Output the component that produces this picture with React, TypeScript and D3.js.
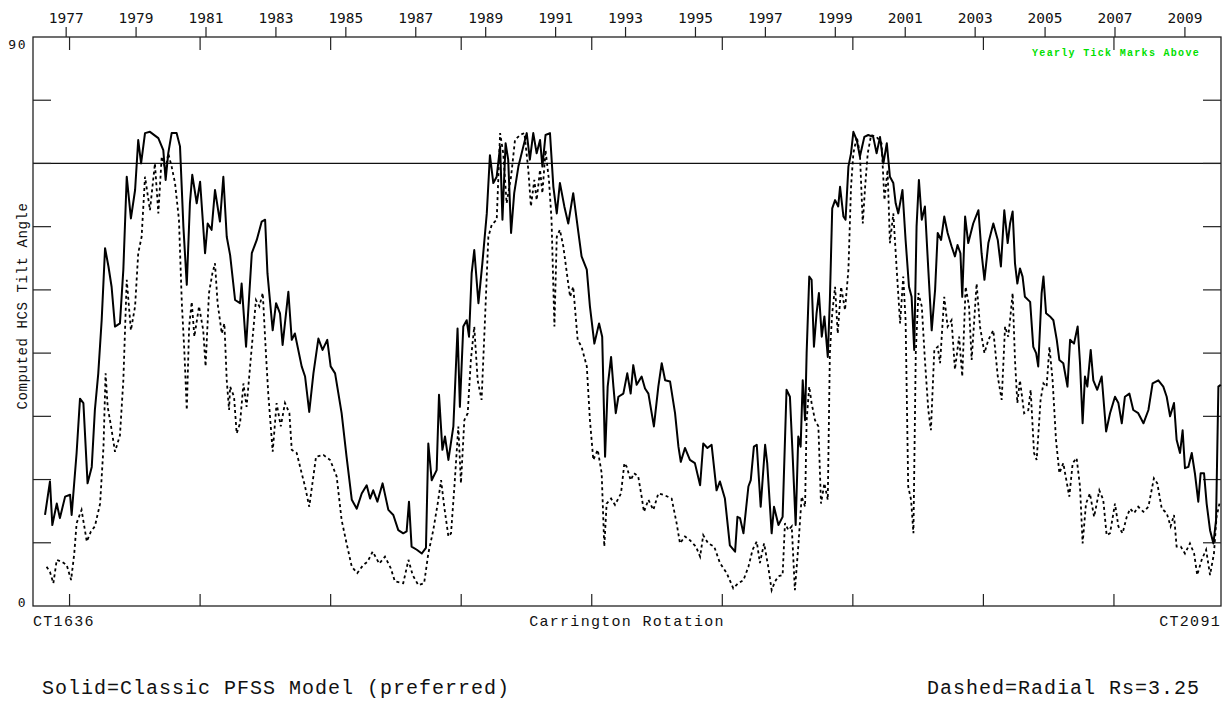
import React from "react";
import * as d3 from "d3";

// Carrington rotation range and axis ticks
const crStart = 1636;
const crEnd = 2091;
const crTicks = [1650, 1700, 1750, 1800, 1850, 1900, 1950, 2000, 2050];
const yTicks = [10, 20, 30, 40, 50, 60, 70, 80];
const yLabels = [0, 90];
const yearLabels = [1977, 1979, 1981, 1983, 1985, 1987, 1989, 1991, 1993, 1995, 1997, 1999, 2001, 2003, 2005, 2007, 2009];
const crAt1977 = 1648.7;
const crPerYear = 13.39;
const refLine = 70;

// Solid = Classic PFSS model  [Carrington rotation, tilt angle]
const solidData: [number, number][] = [
  [1640.6,14.4],[1642.5,19.7],[1643.4,12.8],[1645.1,16.2],[1646.3,13.9],[1648.3,17.3],[1650.2,17.6],[1650.8,14.4],[1652.7,24.2],[1654.0,32.8],[1655.3,32.1],[1656.9,19.4],[1658.5,22.0],[1659.7,31.0],[1661.0,36.8],[1662.3,45.2],[1663.6,56.6],[1664.9,53.7],[1666.1,50.5],[1667.4,44.2],[1669.3,44.7],[1670.6,53.2],[1671.9,67.9],[1673.5,61.3],[1675.1,65.8],[1676.3,73.7],[1677.4,70.0],[1678.9,74.8],[1680.8,75.0],[1684.0,74.0],[1685.9,72.1],[1686.8,67.4],[1687.8,71.6],[1689.1,74.8],[1691.0,74.8],[1692.3,72.7],[1693.6,60.0],[1694.9,50.8],[1696.1,63.7],[1697.0,68.2],[1698.7,63.7],[1700.0,67.1],[1701.9,55.8],[1702.9,60.5],[1704.4,59.5],[1705.7,65.8],[1707.6,60.8],[1708.9,67.9],[1710.2,58.4],
  [1711.5,55.5],[1713.4,48.4],[1715.3,47.9],[1715.9,51.0],[1717.6,41.0],[1719.8,55.8],[1721.7,57.9],[1723.6,60.8],[1724.9,61.1],[1725.8,52.6],[1727.8,43.6],[1729.1,47.9],[1730.6,46.3],[1731.6,41.3],[1733.8,49.7],[1735.1,42.1],[1736.3,43.1],[1738.9,37.9],[1740.2,36.3],[1741.8,30.7],[1743.4,36.8],[1745.3,42.3],[1746.9,40.5],[1748.7,42.1],[1750.0,37.9],[1751.7,36.8],[1754.2,30.5],[1756.1,23.6],[1758.1,16.8],[1760.0,15.4],[1761.9,17.8],[1763.8,19.1],[1765.1,17.0],[1766.3,18.3],[1767.9,16.5],[1769.9,19.4],[1772.1,15.2],[1774.0,14.4],[1775.9,12.0],[1777.8,11.5],[1779.1,11.8],[1780.0,16.5],[1781.0,9.4],[1783.0,8.9],[1784.9,8.3],[1786.5,9.2],
  [1787.4,25.7],[1788.7,19.9],[1790.6,21.5],[1791.5,33.4],[1792.8,24.7],[1793.8,26.8],[1795.1,23.1],[1797.0,28.4],[1798.6,43.9],[1799.5,31.5],[1800.8,44.2],[1802.1,45.2],[1803.0,42.6],[1804.0,52.6],[1805.0,56.3],[1806.6,47.9],[1808.1,54.2],[1809.8,62.1],[1811.0,71.3],[1812.3,66.9],[1813.6,67.9],[1814.9,72.7],[1815.8,61.1],[1817.0,73.2],[1818.0,70.6],[1819.1,59.0],[1820.3,65.3],[1821.9,69.5],[1823.8,72.7],[1825.1,74.8],[1826.3,70.6],[1827.6,74.8],[1828.9,71.6],[1830.2,73.7],[1831.1,69.5],[1832.3,74.5],[1834.0,74.8],[1835.3,66.3],[1836.6,62.1],[1837.8,66.9],[1839.5,63.2],[1841.0,60.5],[1842.9,65.3],[1844.9,59.0],[1846.1,55.3],[1848.1,53.2],[1849.3,47.4],[1851.0,41.5],[1852.8,44.7],[1854.0,42.6],[1855.1,23.6],[1856.1,34.7],[1857.4,39.4],[1858.3,34.7],[1859.2,30.5],[1860.2,33.1],[1862.1,33.6],
  [1863.6,36.8],[1864.9,33.6],[1865.9,38.1],[1867.2,35.0],[1869.1,36.3],[1870.4,34.4],[1871.7,33.6],[1873.8,28.4],[1875.5,34.7],[1876.8,38.4],[1878.1,35.7],[1880.0,35.5],[1881.9,30.5],[1883.2,25.2],[1884.1,22.8],[1885.7,25.0],[1887.6,23.1],[1889.5,22.6],[1891.5,19.1],[1892.7,25.7],[1894.3,25.0],[1895.9,25.5],[1897.8,18.3],[1899.1,19.7],[1901.0,17.0],[1902.9,9.6],[1904.9,8.6],[1905.8,14.1],[1906.8,13.9],[1908.1,11.5],[1910.0,18.9],[1910.9,19.9],[1912.1,25.2],[1913.2,25.5],[1914.7,15.7],[1916.4,25.5],[1917.2,22.6],[1918.9,11.5],[1919.8,15.7],[1921.5,12.8],[1923.1,14.1],[1924.6,34.2],[1925.9,33.1],[1926.9,24.2],[1928.1,12.8],[1929.1,26.8],[1930.0,25.2],[1930.8,35.7],[1931.7,29.4],[1932.3,40.0],[1933.3,52.1],[1934.2,51.6],[1935.1,41.0],
  [1936.1,46.3],[1937.0,49.5],[1938.1,42.6],[1939.1,45.8],[1940.4,39.4],[1941.2,48.4],[1942.1,62.9],[1943.2,64.2],[1944.4,63.2],[1945.1,66.3],[1946.4,61.6],[1947.2,61.1],[1948.3,69.5],[1949.3,71.6],[1950.2,75.0],[1951.5,73.7],[1952.7,71.1],[1954.4,74.2],[1955.9,74.5],[1957.8,74.2],[1959.1,71.6],[1960.4,74.2],[1961.7,70.0],[1963.0,73.2],[1964.2,67.9],[1965.5,66.9],[1966.4,63.7],[1967.4,62.1],[1969.0,65.8],[1970.2,57.9],[1971.5,50.5],[1972.5,48.9],[1973.5,40.5],[1974.4,60.0],[1975.3,67.4],[1976.4,61.1],[1977.6,63.2],[1978.9,53.2],[1980.2,43.6],[1981.5,50.0],[1982.5,59.0],[1983.8,57.9],[1985.0,61.6],[1986.3,59.0],[1987.8,56.9],[1989.1,55.3],[1990.1,57.1],[1991.2,55.8],[1991.9,48.9],[1993.0,61.6],[1994.2,57.4],[1996.1,60.5],[1998.1,62.6],[1999.3,55.8],[2000.4,51.6],[2001.9,57.4],[2003.8,60.5],[2005.5,57.9],[2006.7,53.7],[2008.0,62.6],[2009.3,57.4],
  [2010.2,60.5],[2011.2,62.4],[2012.1,54.2],[2013.0,51.0],[2014.0,53.4],[2015.0,52.1],[2015.9,48.9],[2017.9,48.1],[2019.1,41.0],[2020.2,40.0],[2021.0,37.9],[2022.3,49.5],[2023.0,52.1],[2024.0,46.3],[2025.5,45.8],[2026.8,45.2],[2028.1,42.1],[2029.1,38.9],[2030.6,38.4],[2032.2,34.7],[2033.2,42.1],[2034.7,41.5],[2036.1,44.2],[2037.0,38.4],[2038.0,28.9],[2038.9,36.3],[2039.8,34.7],[2041.1,40.5],[2042.1,35.7],[2043.6,34.2],[2045.3,36.3],[2047.0,27.6],[2048.5,30.5],[2050.4,33.1],[2051.7,32.1],[2053.0,28.9],[2054.2,33.1],[2055.9,33.6],[2057.4,31.0],[2059.3,30.5],[2061.3,28.9],[2063.2,31.0],[2064.8,35.2],[2067.0,35.7],[2068.9,34.7],[2070.2,33.1],[2071.5,30.0],[2073.0,32.1],[2074.0,26.3],[2075.3,24.2],[2076.3,27.8],[2077.2,21.8],[2078.5,22.0],[2079.8,24.2],[2081.0,21.0],[2082.3,16.5],[2083.2,21.0],[2084.5,21.0],[2085.5,16.2],[2086.8,12.0],[2088.1,9.9],[2089.1,13.6],[2090.0,34.7],[2090.9,35.0]
];

// Dashed = Radial, Rs = 3.25  [Carrington rotation, tilt angle]
const dashedData: [number, number][] = [
  [1641.2,6.2],[1642.5,5.4],[1643.8,3.6],[1645.1,7.3],[1647.0,7.0],[1648.9,6.5],[1650.6,4.1],[1651.8,8.3],[1652.7,13.1],[1654.6,15.2],[1656.6,10.2],[1658.2,11.8],[1659.7,12.6],[1661.7,16.2],[1663.0,25.2],[1663.8,36.8],[1664.6,31.5],[1665.9,28.4],[1667.4,24.4],[1669.3,27.0],[1670.6,35.7],[1671.9,51.6],[1673.5,43.6],[1675.1,47.4],[1676.3,55.8],[1677.6,58.4],[1678.9,67.9],[1680.8,62.6],[1682.7,70.0],[1684.0,62.1],[1685.3,71.1],[1686.8,69.0],[1687.8,71.6],[1689.1,69.5],[1690.4,66.9],[1691.9,61.1],[1693.0,47.9],[1694.0,40.0],[1694.9,31.0],[1695.8,44.2],[1696.8,48.1],[1697.8,42.6],[1699.6,47.4],[1701.2,43.6],[1702.1,37.9],[1703.4,49.5],[1704.7,52.6],[1705.7,54.2],[1706.7,47.9],[1708.3,43.1],[1709.3,44.7],[1710.2,35.7],[1711.1,31.0],
  [1711.5,34.7],[1713.0,33.1],[1714.0,27.3],[1715.3,28.9],[1716.6,35.2],[1717.8,31.5],[1719.8,41.0],[1721.4,48.4],[1722.7,47.4],[1724.0,49.5],[1725.2,40.0],[1726.1,33.6],[1727.8,24.4],[1729.3,32.1],[1730.9,28.4],[1732.5,32.1],[1734.2,30.5],[1735.1,24.7],[1737.0,24.2],[1738.9,21.0],[1740.2,18.9],[1741.8,15.7],[1744.4,23.6],[1747.2,23.9],[1749.8,23.1],[1752.3,20.5],[1754.2,13.6],[1756.1,9.9],[1758.1,6.2],[1760.2,5.2],[1762.5,6.5],[1764.1,7.0],[1766.1,8.6],[1768.6,6.7],[1770.8,7.8],[1773.0,6.0],[1774.6,3.9],[1777.8,3.6],[1779.8,7.3],[1781.4,4.9],[1783.6,3.3],[1785.8,3.6],
  [1787.4,8.3],[1789.3,12.0],[1791.0,16.2],[1792.3,19.9],[1793.5,15.7],[1795.1,11.0],[1796.1,11.5],[1797.4,18.9],[1798.9,28.4],[1799.9,19.4],[1801.2,29.4],[1802.5,30.5],[1803.7,38.9],[1805.0,44.2],[1806.3,35.7],[1807.8,32.6],[1809.1,45.2],[1810.4,58.4],[1811.7,60.3],[1813.6,61.1],[1814.9,74.8],[1816.1,71.6],[1817.4,63.7],[1819.1,67.9],[1820.6,73.7],[1822.5,74.5],[1824.2,74.8],[1825.7,69.0],[1826.7,63.2],[1828.0,67.4],[1828.9,64.2],[1830.2,69.0],[1831.1,65.3],[1832.3,72.1],[1833.6,67.4],[1834.6,61.1],[1835.7,44.2],[1836.6,58.4],[1837.8,59.5],[1839.1,56.9],[1840.8,51.6],[1841.7,48.9],[1842.9,50.5],[1844.6,42.1],[1846.1,41.0],[1848.1,37.9],[1849.3,29.4],[1850.6,23.1],[1852.3,24.7],[1853.8,21.0],[1854.8,9.4],[1855.7,16.2],[1857.4,17.0],[1858.9,16.0],[1861.2,17.8],[1862.5,22.6],
  [1863.4,22.0],[1864.9,19.9],[1866.2,21.0],[1867.8,20.5],[1869.1,17.3],[1870.0,14.9],[1871.7,16.8],[1873.6,15.2],[1875.5,17.8],[1877.4,17.6],[1880.6,17.0],[1882.5,13.1],[1883.8,9.9],[1885.7,11.0],[1887.6,10.4],[1889.9,9.4],[1891.5,7.8],[1892.7,11.2],[1894.6,9.9],[1896.9,9.4],[1899.1,6.8],[1901.7,5.2],[1904.2,2.8],[1906.1,3.6],[1908.1,4.1],[1910.0,6.2],[1911.6,8.9],[1913.2,10.2],[1914.4,6.8],[1916.0,9.9],[1917.6,6.2],[1918.9,2.5],[1920.2,3.9],[1921.5,4.7],[1923.1,4.9],[1924.0,13.1],[1925.3,12.0],[1926.6,12.6],[1927.8,2.5],[1929.1,9.4],[1930.4,17.3],[1931.7,15.7],[1932.3,29.4],[1933.3,34.7],[1934.2,32.1],
  [1935.5,29.4],[1936.8,28.4],[1937.8,16.2],[1939.1,19.4],[1940.4,16.8],[1941.2,40.0],[1942.1,46.3],[1943.2,50.5],[1944.2,43.1],[1945.5,50.5],[1947.0,46.8],[1948.3,53.2],[1949.3,66.3],[1950.2,71.6],[1951.5,74.2],[1952.7,71.6],[1953.8,60.5],[1954.7,66.3],[1955.7,71.6],[1957.0,74.5],[1959.1,74.2],[1961.0,73.2],[1962.1,64.2],[1963.3,69.0],[1964.2,57.4],[1965.5,62.1],[1966.8,53.2],[1968.1,44.7],[1969.3,52.1],[1970.2,45.2],[1971.2,18.9],[1972.3,16.8],[1973.2,11.5],[1974.1,40.0],[1975.1,49.5],[1976.4,47.4],[1977.6,38.9],[1978.9,31.0],[1979.9,27.8],[1981.2,40.5],[1982.5,41.0],[1983.4,38.4],[1985.0,48.9],[1986.3,44.2],[1987.8,45.2],[1989.1,37.4],[1990.7,42.6],[1991.9,36.3],[1993.2,50.5],[1994.5,47.4],[1995.5,38.9],[1997.4,51.0],[1998.7,44.2],[2000.4,40.0],[2001.9,42.1],[2003.8,43.6],[2005.5,36.3],[2007.0,32.6],[2008.3,44.2],[2009.5,42.6],
  [2010.2,45.2],[2011.2,49.5],[2012.1,38.9],[2013.0,32.1],[2014.0,35.7],[2015.6,30.5],[2017.2,31.0],[2018.1,34.2],[2019.4,24.2],[2020.4,23.1],[2021.9,32.6],[2023.0,35.2],[2024.2,34.7],[2025.3,41.0],[2026.5,35.7],[2027.8,26.3],[2029.1,21.0],[2030.6,22.6],[2032.2,18.9],[2032.9,17.3],[2034.2,22.6],[2035.7,23.4],[2037.0,18.9],[2038.0,9.9],[2039.3,16.2],[2040.8,17.8],[2042.4,14.1],[2044.4,18.3],[2045.9,16.8],[2047.2,11.2],[2048.5,11.5],[2050.4,16.2],[2051.7,12.6],[2053.3,11.5],[2054.9,14.1],[2056.2,15.4],[2057.7,14.7],[2059.3,15.7],[2061.3,14.9],[2063.2,15.7],[2065.3,20.2],[2066.6,19.4],[2068.3,15.4],[2070.2,14.7],[2071.7,12.6],[2073.0,14.4],[2074.0,9.4],[2075.6,9.4],[2077.2,8.3],[2079.1,9.9],[2080.7,8.3],[2081.9,4.9],[2083.6,7.3],[2085.3,8.9],[2086.8,4.9],[2088.3,8.3],[2089.3,14.1],[2090.4,16.2]
];

const W = 1232;
const H = 701;
const M = { left: 33, right: 1221, top: 37, bottom: 606 };
const mono = "'Liberation Mono', 'DejaVu Sans Mono', monospace";
const sansMono = "'DejaVu Sans Mono', monospace";

export default function App() {
  const x = d3.scaleLinear().domain([crStart, crEnd]).range([M.left, M.right]);
  const y = d3.scaleLinear().domain([0, 90]).range([M.bottom, M.top]);
  const yearX = (yr: number) => x(crAt1977 + (yr - 1977) * crPerYear);
  const line = d3.line<[number, number]>().x((d) => x(d[0])).y((d) => y(d[1]));

  return (
    <svg width={W} height={H} style={{ position: "absolute", left: 0, top: 0, background: "#fff" }}>
      <rect x={0} y={0} width={W} height={H} fill="#fff" />
      {/* frame */}
      <rect x={M.left} y={M.top} width={M.right - M.left} height={M.bottom - M.top} fill="none" stroke="#222" strokeWidth={1.3} />
      {/* reference line at 70 */}
      <line x1={M.left} x2={M.right} y1={y(refLine)} y2={y(refLine)} stroke="#111" strokeWidth={1.2} />
      {/* y ticks */}
      {yTicks.map((t) => (
        <g key={t}>
          <line x1={M.left} x2={M.left + 18} y1={y(t)} y2={y(t)} stroke="#222" strokeWidth={1.2} />
          <line x1={M.right - 18} x2={M.right} y1={y(t)} y2={y(t)} stroke="#222" strokeWidth={1.2} />
        </g>
      ))}
      {yLabels.map((t) => (
        <text key={t} x={M.left - 6} y={t === 90 ? y(t) + 12 : y(t) + 1} textAnchor="end" fontFamily={sansMono} fontSize={13} letterSpacing={1.5} fill="#111">
          {t}
        </text>
      ))}
      {/* CR ticks */}
      {crTicks.map((t) => (
        <g key={t}>
          <line x1={x(t)} x2={x(t)} y1={M.bottom} y2={M.bottom - 12} stroke="#222" strokeWidth={1.2} />
          <line x1={x(t)} x2={x(t)} y1={M.top} y2={M.top + 13} stroke="#222" strokeWidth={1.2} />
        </g>
      ))}
      {/* year ticks above */}
      {yearLabels.map((yr) => (
        <g key={yr}>
          <line x1={yearX(yr)} x2={yearX(yr)} y1={M.top} y2={M.top - 10} stroke="#222" strokeWidth={1.2} />
          <text x={yearX(yr)} y={23} textAnchor="middle" fontFamily={sansMono} fontSize={14.5} fill="#111">
            {yr}
          </text>
        </g>
      ))}
      <text x={1200} y={56} textAnchor="end" fontFamily={mono} fontSize={10} fontWeight="bold" letterSpacing={1.3} fill="#00e000">
        Yearly Tick Marks Above
      </text>
      {/* series */}
      <path d={line(dashedData) || ""} fill="none" stroke="#000" strokeWidth={1.8} strokeDasharray="3,3" />
      <path d={line(solidData) || ""} fill="none" stroke="#000" strokeWidth={2} strokeLinejoin="round" />
      {/* x labels */}
      <text x={M.left} y={626} fontFamily={mono} fontSize={15} letterSpacing={1.3} fill="#111">CT{crStart}</text>
      <text x={M.right} y={626} textAnchor="end" fontFamily={mono} fontSize={15} letterSpacing={1.3} fill="#111">CT{crEnd}</text>
      <text x={(M.left + M.right) / 2} y={626} textAnchor="middle" fontFamily={mono} fontSize={15} letterSpacing={1.3} fill="#111">
        Carrington Rotation
      </text>
      <text transform="translate(27, 306) rotate(-90)" textAnchor="middle" fontFamily={mono} fontSize={14} letterSpacing={0.6} fill="#111">
        Computed HCS Tilt Angle
      </text>
      <text x={42} y={694} fontFamily={mono} fontSize={20} letterSpacing={1} fill="#111">
        Solid=Classic PFSS Model (preferred)
      </text>
      <text x={1200} y={694} textAnchor="end" fontFamily={mono} fontSize={20} letterSpacing={1} fill="#111">
        Dashed=Radial Rs=3.25
      </text>
    </svg>
  );
}
